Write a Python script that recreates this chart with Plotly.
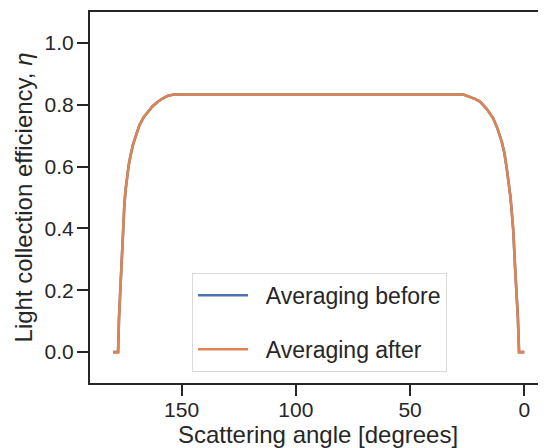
import plotly.graph_objects as go

# Scattering angle [degrees] and light collection efficiency
angle_before = [180, 179.0, 177.8, 177.4, 176.9, 176.4, 175.7, 175.1, 174.6, 173.9, 173.2,
                172.3, 171.3, 170.0, 168.4, 166.6, 164.8, 162.6, 160.4, 158.2, 156.0, 153.3,
                26.7, 24.0, 21.6, 19.4, 16.5, 13.6, 11.7, 9.9, 8.7, 7.7, 6.8, 6.0, 5.4,
                4.8, 4.1, 3.4, 2.8, 2.3, 1.0, 0]
eta_before = [0, 0, 0, 0.11, 0.20, 0.283, 0.40, 0.47, 0.52, 0.568, 0.603,
              0.638, 0.670, 0.70, 0.735, 0.76, 0.778, 0.796, 0.810, 0.821, 0.829, 0.833,
              0.833, 0.826, 0.819, 0.810, 0.787, 0.756, 0.722, 0.681, 0.643, 0.595, 0.548,
              0.498, 0.445, 0.391, 0.283, 0.20, 0.11, 0, 0, 0]

angle_after = list(angle_before)
eta_after = list(eta_before)

series_names = ["Averaging before", "Averaging after"]
series_colors = ["#4C72B0", "#DD8452"]

x_ticks = [150, 100, 50, 0]
y_ticks = [0.0, 0.2, 0.4, 0.6, 0.8, 1.0]

fig = go.Figure()
for i, (xs, ys) in enumerate([(angle_before, eta_before), (angle_after, eta_after)]):
    fig.add_trace(go.Scatter(
        x=xs, y=ys, mode="lines", name="\u00a0\u00a0" + series_names[i],
        line=dict(color=series_colors[i], width=2.6),
        legendgroup=f"g{i}",
    ))

font_color = "#262626"
fig.update_layout(
    width=538, height=440,
    margin=dict(l=82, r=0, t=4, b=65),
    paper_bgcolor="white", plot_bgcolor="white",
    font=dict(family="Liberation Sans, Arial, sans-serif", size=20, color=font_color),
    showlegend=True,
    legend=dict(
        x=0.2237, y=0.030, xanchor="left", yanchor="bottom",
        bgcolor="rgba(255,255,255,0.8)", bordercolor="#d9d9d9", borderwidth=1,
        font=dict(size=23, color=font_color),
        tracegroupgap=21,
        itemwidth=50,
    ),
)
fig.update_xaxes(
    range=[190.1, -9.5], tickvals=x_ticks, ticktext=[str(v) for v in x_ticks],
    showgrid=False, zeroline=False, automargin=False,
    showline=True, linecolor=font_color, linewidth=2, mirror=True,
    ticks="outside", ticklen=11, tickwidth=2, tickcolor=font_color,
    ticklabelstandoff=-4,
    tickfont=dict(size=21),
    title=dict(text="Scattering angle [degrees]", font=dict(size=24), standoff=4),
)
fig.update_yaxes(
    range=[-0.1, 1.1], tickvals=y_ticks, ticktext=[f"{v:.1f}" for v in y_ticks],
    showgrid=False, zeroline=False, automargin=False,
    showline=True, linecolor=font_color, linewidth=2, mirror=True,
    ticks="outside", ticklen=11, tickwidth=2, tickcolor=font_color,
    ticklabelstandoff=-1,
    tickfont=dict(size=21),
    title=dict(text="Light collection efficiency, <i>η</i>", font=dict(size=24), standoff=5),
)

fig.write_html("out.html")
